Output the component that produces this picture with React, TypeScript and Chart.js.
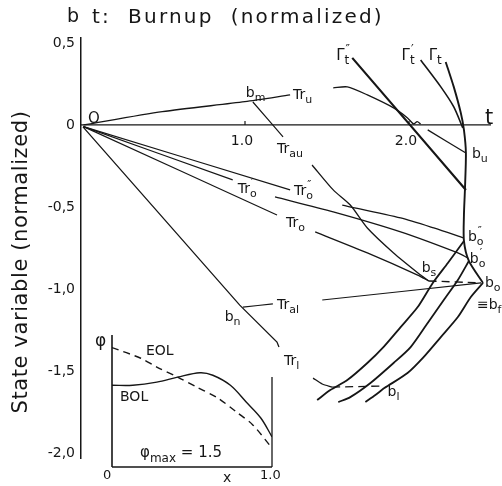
import React, { useEffect, useRef } from "react";
import { Chart, registerables } from "chart.js";
Chart.register(...registerables);

const FONT = "'DejaVu Sans', sans-serif";
const INK = "#161616";

// ---------- main chart: axis ticks ----------
const yTickValues = [-2.0, -1.5, -1.0, -0.5, 0, 0.5];
const yTickLabels = ["-2,0", "-1,5", "-1,0", "-0,5", "0", "0,5"];
const xTickValues = [1.0, 2.0];
const xTickLabels = ["1.0", "2.0"];

// ---------- trajectories (t: normalized burnup, b: state variable) ----------
const tAxisT = [0, 2.5];
const tAxisB = [0, 0];

const truT1 = [0.015, 0.496, 0.999, 1.275];
const truB1 = [0.0, 0.081, 0.142, 0.183];
const truT2 = [1.538, 1.624, 1.746, 1.906, 1.991, 2.028, 2.05, 2.071];
const truB2 = [0.226, 0.232, 0.183, 0.104, 0.043, 0.006, 0.02, 0.006];
const truT3 = [2.114, 2.347];
const truB3 = [-0.03, -0.171];

const gammaT2T = [1.654, 2.347];
const gammaT2B = [0.409, -0.396];
const gammaT1T = [2.071, 2.194, 2.273, 2.328];
const gammaT1B = [0.396, 0.232, 0.11, -0.018];
const gammaT = [2.224, 2.273, 2.316, 2.335, 2.347, 2.341, 2.335, 2.335, 2.365, 2.451];
const gammaB = [0.384, 0.232, 0.073, -0.03, -0.171, -0.396, -0.549, -0.707, -0.829, -0.963];

const tro2T1 = [0.015, 1.275];
const tro2B1 = [-0.01, -0.396];
const tro2T2 = [1.593, 1.949, 2.151, 2.335];
const tro2B2 = [-0.488, -0.567, -0.628, -0.689];

const tro1T1 = [0.015, 0.925];
const tro1B1 = [-0.01, -0.335];
const tro1T2 = [1.183, 1.538, 1.949, 2.298, 2.359];
const tro1B2 = [-0.439, -0.53, -0.652, -0.78, -0.811];

const troT1 = [0.015, 1.195];
const troB1 = [-0.01, -0.549];
const troT2 = [1.428, 1.746, 2.053, 2.12];
const troB2 = [-0.652, -0.78, -0.915, -0.951];

const trauT1 = [1.048, 1.232];
const trauB1 = [0.14, -0.073];
const trauT2 = [1.409, 1.538, 1.642, 1.746, 1.906, 2.071, 2.12];
const trauB2 = [-0.244, -0.396, -0.488, -0.628, -0.78, -0.915, -0.951];

const trlT1 = [0.012, 0.968, 1.195, 1.207];
const trlB1 = [-0.012, -1.098, -1.323, -1.354];
const trlT2 = [1.415, 1.471, 1.532];
const trlB2 = [-1.543, -1.579, -1.598];
const blT = [1.532, 1.838];
const blB = [-1.598, -1.591];

const tralT1 = [0.987, 1.17];
const tralB1 = [-1.11, -1.091];
const tralT2 = [1.471, 2.439];
const tralB2 = [-1.067, -0.963];

const bsT = [2.12, 2.439];
const bsB = [-0.951, -0.963];

const lineAT = [2.335, 2.237, 2.145, 2.053, 1.949, 1.844, 1.746, 1.624, 1.52, 1.44];
const lineAB = [-0.707, -0.841, -0.963, -1.11, -1.232, -1.354, -1.451, -1.555, -1.616, -1.677];
const lineBT = [2.365, 2.298, 2.212, 2.114, 2.01, 1.906, 1.765, 1.642, 1.569];
const lineBB = [-0.829, -0.945, -1.067, -1.207, -1.354, -1.451, -1.573, -1.659, -1.689];
const lineCT = [2.451, 2.377, 2.298, 2.194, 2.089, 1.991, 1.85, 1.795, 1.734];
const lineCB = [-0.963, -1.049, -1.171, -1.293, -1.415, -1.512, -1.604, -1.646, -1.689];

// ---------- labels (anchored in data coordinates: left edge, vertical centre) ----------
const labelTexts = ["O", "t", "b|_m", "Tr|_u", "Tr|_au", "Γ|_t|^″", "Γ|_t|^′", "Γ|_t", "b|_u",
  "Tr|_o|^″", "Tr|_o|^′", "Tr|_o", "b|_o|^″", "b|_o|^′", "b|_o", "≡b|_f", "b|_s", "Tr|_al", "b|_n", "Tr|_l", "b|_l"];
const labelT = [0.043, 2.463, 1.005, 1.293, 1.195, 1.556, 1.955, 2.12, 2.384,
  1.299, 0.956, 1.25, 2.359, 2.371, 2.463, 2.414, 2.077, 1.195, 0.876, 1.238, 1.869];
const labelB = [0.043, 0.049, 0.201, 0.189, -0.14, 0.427, 0.427, 0.427, -0.171,
  -0.396, -0.384, -0.591, -0.677, -0.811, -0.957, -1.091, -0.866, -1.091, -1.165, -1.433, -1.622];

// ---------- inset: flux shape φ(x) ----------
const bolX = [0, 0.13, 0.28, 0.41, 0.55, 0.63, 0.74, 0.84, 0.93, 1.0];
const bolPhi = [1.3, 1.3, 1.35, 1.43, 1.5, 1.46, 1.3, 1.03, 0.78, 0.48];
const eolX = [0, 0.18, 0.28, 0.41, 0.53, 0.66, 0.78, 0.88, 1.0];
const eolPhi = [1.9, 1.73, 1.59, 1.43, 1.27, 1.1, 0.87, 0.67, 0.3];
const insetLeftX = [0, 0];
const insetLeftPhi = [0, 2.1];
const insetBottomX = [0, 1];
const insetBottomPhi = [0, 0];
const insetRightX = [1, 1];
const insetRightPhi = [0, 1.43];
const insetLabelTexts = ["φ", "EOL", "BOL", "φ|_max| = 1.5", "0", "x", "1.0"];
const insetLabelX = [-0.106, 0.2125, 0.05, 0.175, -0.056, 0.694, 0.925];
const insetLabelPhi = [2.02, 1.86, 1.13, 0.24, -0.11, -0.16, -0.11];

const pts = (xs: number[], ys: number[]) => xs.map((v, i) => ({ x: v, y: ys[i] }));

function drawRich(ctx: CanvasRenderingContext2D, spec: string, x: number, y: number, size: number) {
  const parts = spec.split("|");
  const small = Math.round(size * 0.78);
  const base = y + size * 0.36;
  let cx = x;
  let subStart = x;
  let prevSub = false;
  ctx.textAlign = "left";
  ctx.textBaseline = "alphabetic";
  for (const p of parts) {
    if (p.startsWith("_")) {
      const s = p.slice(1);
      ctx.font = `${small}px ${FONT}`;
      subStart = cx;
      ctx.fillText(s, cx, base + size * 0.28);
      cx += ctx.measureText(s).width;
      prevSub = true;
    } else if (p.startsWith("^")) {
      const s = p.slice(1);
      ctx.font = `${small}px ${FONT}`;
      const sx = prevSub ? subStart + 1 : cx;
      ctx.fillText(s, sx, base - size * 0.5);
      cx = Math.max(cx, sx + ctx.measureText(s).width);
      prevSub = false;
    } else {
      ctx.font = `${size}px ${FONT}`;
      ctx.fillText(p, cx, base);
      cx += ctx.measureText(p).width;
      prevSub = false;
    }
  }
}

const mainText = {
  id: "mainText",
  afterDraw(chart: any) {
    const { ctx, scales } = chart;
    const x = scales.x;
    const y = scales.y;
    ctx.save();
    ctx.fillStyle = INK;
    ctx.strokeStyle = INK;
    ctx.lineWidth = 1.2;
    const y0 = y.getPixelForValue(0);
    xTickValues.forEach((v, i) => {
      const px = x.getPixelForValue(v);
      ctx.beginPath();
      ctx.moveTo(px, y0);
      ctx.lineTo(px, y0 - 4);
      ctx.stroke();
      ctx.font = `14px ${FONT}`;
      ctx.textAlign = "center";
      ctx.textBaseline = "middle";
      ctx.fillText(xTickLabels[i], px - 3, y0 + 16);
    });
    labelTexts.forEach((s, i) => {
      const size = s === "t" ? 21 : s.startsWith("Γ") ? 15 : s === "O" ? 15 : 14;
      drawRich(ctx, s, x.getPixelForValue(labelT[i]), y.getPixelForValue(labelB[i]), size);
    });
    // titles
    ctx.font = `19px ${FONT}`;
    ctx.textAlign = "left";
    ctx.textBaseline = "middle";
    ctx.fillText("b", 67, 17);
    ctx.font = `20px ${FONT}`;
    (ctx as any).letterSpacing = "2.2px";
    ctx.fillText("t:  Burnup  (normalized)", 92, 18);
    (ctx as any).letterSpacing = "0.6px";
    ctx.translate(22, 262);
    ctx.rotate(-Math.PI / 2);
    ctx.font = `21px ${FONT}`;
    ctx.textAlign = "center";
    ctx.fillText("State variable (normalized)", 0, 0);
    ctx.restore();
  },
};

const insetText = {
  id: "insetText",
  afterDraw(chart: any) {
    const { ctx, scales } = chart;
    ctx.save();
    ctx.fillStyle = INK;
    insetLabelTexts.forEach((s, i) => {
      const size = s === "φ" ? 17 : s.startsWith("φ") ? 15 : s === "0" || s === "1.0" ? 13 : 14;
      drawRich(ctx, s, scales.x.getPixelForValue(insetLabelX[i]), scales.y.getPixelForValue(insetLabelPhi[i]), size);
    });
    ctx.restore();
  },
};

type S = { t: number[]; b: number[]; w: number; dash?: number[]; tension?: number };

const mainSeries: S[] = [
  { t: tAxisT, b: tAxisB, w: 1.3 },
  { t: truT1, b: truB1, w: 1.3 },
  { t: truT2, b: truB2, w: 1.3 },
  { t: truT3, b: truB3, w: 1.3 },
  { t: gammaT2T, b: gammaT2B, w: 2.2 },
  { t: gammaT1T, b: gammaT1B, w: 1.6 },
  { t: gammaT, b: gammaB, w: 1.9 },
  { t: tro2T1, b: tro2B1, w: 1.2 },
  { t: tro2T2, b: tro2B2, w: 1.3 },
  { t: tro1T1, b: tro1B1, w: 1.2 },
  { t: tro1T2, b: tro1B2, w: 1.3 },
  { t: troT1, b: troB1, w: 1.2 },
  { t: troT2, b: troB2, w: 1.3 },
  { t: trauT1, b: trauB1, w: 1.2 },
  { t: trauT2, b: trauB2, w: 1.3 },
  { t: trlT1, b: trlB1, w: 1.3, tension: 0 },
  { t: trlT2, b: trlB2, w: 1.3 },
  { t: blT, b: blB, w: 1.3, dash: [8, 5] },
  { t: tralT1, b: tralB1, w: 1.2 },
  { t: tralT2, b: tralB2, w: 1.2 },
  { t: bsT, b: bsB, w: 1.3, dash: [8, 5] },
  { t: lineAT, b: lineAB, w: 1.8 },
  { t: lineBT, b: lineBB, w: 1.8 },
  { t: lineCT, b: lineCB, w: 1.8 },
];

function makeMain(canvas: HTMLCanvasElement) {
  return new Chart(canvas, {
    type: "line",
    data: {
      datasets: mainSeries.map((s) => ({
        data: pts(s.t, s.b),
        borderColor: INK,
        borderWidth: s.w,
        borderDash: s.dash ?? [],
        pointRadius: 0,
        tension: s.tension ?? 0.25,
        fill: false,
      })),
    },
    options: {
      responsive: false,
      animation: false,
      events: [],
      layout: { padding: { left: 0, top: 38, right: 11, bottom: 28 } },
      plugins: { legend: { display: false }, tooltip: { enabled: false } },
      scales: {
        x: { type: "linear", min: 0, max: 2.5, display: false },
        y: {
          type: "linear",
          min: -2.03,
          max: 0.53,
          afterBuildTicks: (s: any) => {
            s.ticks = yTickValues.map((v) => ({ value: v }));
          },
          afterFit: (s: any) => {
            s.width = 81;
          },
          grid: { display: false, drawTicks: false },
          border: { display: true, color: INK, width: 1.5 },
          ticks: {
            padding: 6,
            color: INK,
            font: { family: FONT, size: 14 },
            callback: (v: any) => {
              const i = yTickValues.indexOf(Number(v));
              return i >= 0 ? yTickLabels[i] : "";
            },
          },
        },
      },
    } as any,
    plugins: [mainText],
  });
}

function makeInset(canvas: HTMLCanvasElement) {
  const frame = { borderColor: INK, borderWidth: 1.6, pointRadius: 0, clip: false as any };
  return new Chart(canvas, {
    type: "line",
    data: {
      datasets: [
        { ...frame, data: pts(insetLeftX, insetLeftPhi) },
        { ...frame, data: pts(insetBottomX, insetBottomPhi) },
        { ...frame, borderWidth: 1.3, data: pts(insetRightX, insetRightPhi) },
        { data: pts(bolX, bolPhi), borderColor: INK, borderWidth: 1.4, pointRadius: 0, tension: 0.35 },
        { data: pts(eolX, eolPhi), borderColor: INK, borderWidth: 1.4, borderDash: [7, 5], pointRadius: 0, tension: 0.3 },
      ],
    },
    options: {
      responsive: false,
      animation: false,
      events: [],
      layout: { padding: { left: 32, top: 15, right: 18, bottom: 19 } },
      plugins: { legend: { display: false }, tooltip: { enabled: false } },
      scales: {
        x: { type: "linear", min: 0, max: 1, display: false },
        y: { type: "linear", min: 0, max: 2.1, display: false },
      },
    } as any,
    plugins: [insetText],
  });
}

export default function App() {
  const mainRef = useRef<HTMLCanvasElement>(null);
  const insetRef = useRef<HTMLCanvasElement>(null);
  useEffect(() => {
    const a = makeMain(mainRef.current!);
    const b = makeInset(insetRef.current!);
    return () => {
      a.destroy();
      b.destroy();
    };
  }, []);
  return (
    <div style={{ position: "fixed", left: 0, top: 0, width: 502, height: 486, background: "#fff" }}>
      <canvas ref={mainRef} width={502} height={486} style={{ position: "absolute", left: 0, top: 0 }} />
      <canvas ref={insetRef} width={210} height={166} style={{ position: "absolute", left: 80, top: 320 }} />
    </div>
  );
}
